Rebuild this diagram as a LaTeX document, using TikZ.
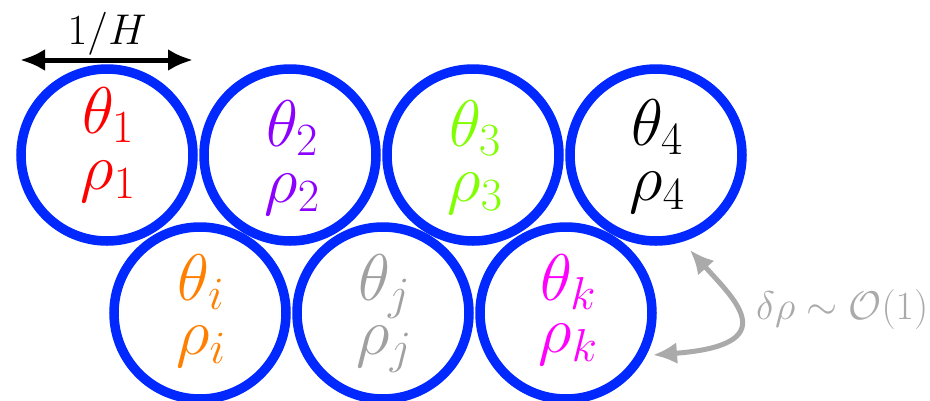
\RequirePackage{fix-cm}
\documentclass[tikz,border=0pt]{standalone}
\usepackage{amsmath}
\usetikzlibrary{arrows.meta}
\definecolor{cblue}{RGB}{0,40,255}
\definecolor{cviolet}{RGB}{140,0,255}
\definecolor{clime}{RGB}{128,255,0}
\definecolor{corange}{RGB}{255,128,0}
\definecolor{cgray}{RGB}{160,160,160}
\definecolor{cmag}{RGB}{255,0,255}
\definecolor{agray}{RGB}{170,170,170}
\begin{document}
\begin{tikzpicture}[x=1pt,y=-1pt,
  cell/.style={circle, draw=cblue, line width=9.5pt, minimum size=172pt, inner sep=0pt},
  var/.style={inner sep=0pt, anchor=base, font=\fontsize{66}{70}\selectfont},
  dimarrow/.style={line width=5pt, {Latex[length=25pt,width=22pt]}-{Latex[length=25pt,width=22pt]}},
  grayarrow/.style={draw=agray, line width=5pt, {Latex[length=24pt,width=22pt]}-{Latex[length=24pt,width=22pt]}},
  lbl/.style={inner sep=0pt}]
\useasboundingbox (0,0) rectangle (930,400);
% top row
\node[cell] (c1) at (107,155) {};
\node[cell] (c2) at (290,155) {};
\node[cell] (c3) at (473,155) {};
\node[cell] (c4) at (656,155) {};
% bottom row
\node[cell] (ci) at (200,313) {};
\node[cell] (cj) at (383,313) {};
\node[cell] (ck) at (566,313) {};
% labels
\node[var, text=red]     (t1) at (108,133) {$\theta_1$};
\node[var, text=red]     (r1) at (108,189) {$\rho_1$};
\node[var, text=cviolet] (t2) at (292,146) {$\theta_2$};
\node[var, text=cviolet] (r2) at (292,202) {$\rho_2$};
\node[var, text=clime]   (t3) at (475,146) {$\theta_3$};
\node[var, text=clime]   (r3) at (475,201) {$\rho_3$};
\node[var, text=black]   (t4) at (657,145) {$\theta_4$};
\node[var, text=black]   (r4) at (657,200) {$\rho_4$};
\node[var, text=corange] (ti) at (201,300) {$\theta_i$};
\node[var, text=corange] (ri) at (201,354) {$\rho_i$};
\node[var, text=cgray]   (tj) at (384,300) {$\theta_j$};
\node[var, text=cgray]   (rj) at (384,354) {$\rho_j$};
\node[var, text=cmag]    (tk) at (568,300) {$\theta_k$};
\node[var, text=cmag]    (rk) at (568,352) {$\rho_k$};
% 1/H dimension
\coordinate (hl) at (20,60);
\coordinate (hr) at (193,60);
\draw[dimarrow] (hl) -- (hr);
\node[lbl, anchor=base, font=\fontsize{43}{50}\selectfont] (hlab) at (107,44) {$1/H$};
% delta rho arrow
\coordinate (ga) at (690,250);
\coordinate (gb) at (653,355);
\draw[grayarrow] (ga) .. controls (735,300) and (785,345) .. (gb);
\node[lbl, anchor=base west, text=agray, font=\fontsize{40}{46}\selectfont] (dlab) at (756,319) {$\delta\rho\sim\mathcal{O}(1)$};
\end{tikzpicture}
\end{document}
